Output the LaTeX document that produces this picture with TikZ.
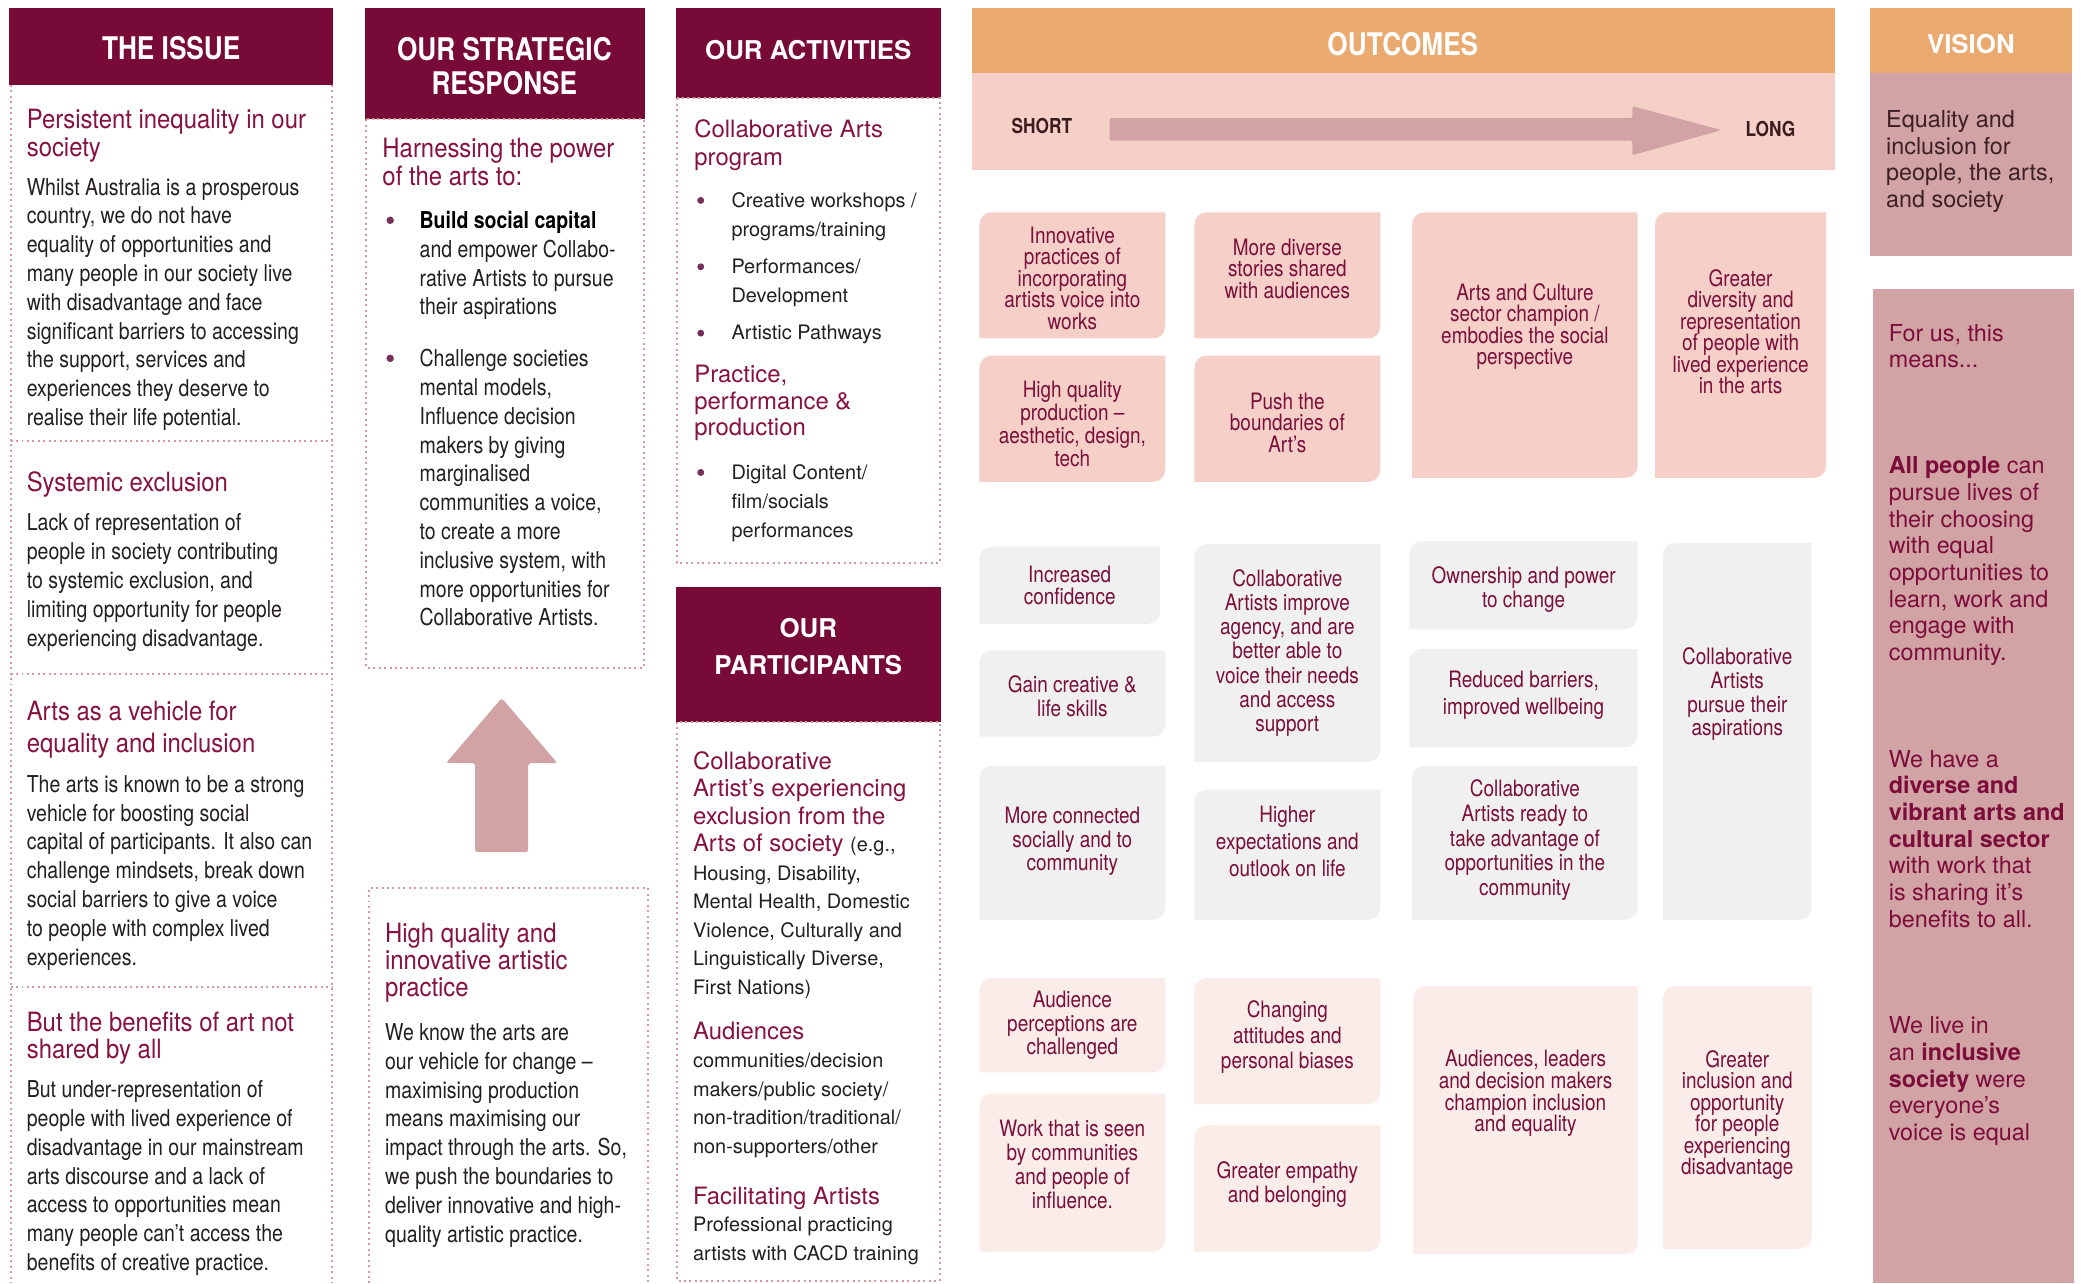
\documentclass[tikz,border=0pt]{standalone}
\usepackage{fontspec}
\setmainfont{TeX Gyre Heros}
\newfontfamily\cond{TeX Gyre Heros}[FakeStretch=0.84]
\newfontfamily\condw{TeX Gyre Heros}[FakeStretch=0.9]
\usetikzlibrary{positioning}
\definecolor{hdrmaroon}{HTML}{770A36}
\definecolor{headred}{HTML}{86123F}
\definecolor{bodyink}{HTML}{231F20}
\definecolor{dotpink}{HTML}{D69A9A}
\definecolor{outorange}{HTML}{EAA96E}
\definecolor{bandpink}{HTML}{F5CFC8}
\definecolor{dustypink}{HTML}{D1A3A4}
\definecolor{outgrey}{HTML}{F0F0F0}
\definecolor{outblush}{HTML}{FAECE9}
\definecolor{outink}{HTML}{7A0F3A}
\definecolor{visink}{HTML}{3E1F25}
\definecolor{visred}{HTML}{7C0C3A}
\definecolor{shortink}{HTML}{3A1C1E}
\definecolor{dotpurple}{HTML}{74305A}

\begin{document}
\begin{tikzpicture}[x = 1pt, y = -1pt]
\fill[white] (0,0) rectangle (1568,967);
\useasboundingbox (0,0) rectangle (1568,967);
\begin{scope}[
	hdr/.style={text=white, align=center, inner sep=0pt},
	cnhdr/.style={hdr, font=\cond\bfseries\fontsize{23.5}{26}\selectfont},
	widehdr/.style={hdr, font=\bfseries\fontsize{19.5}{28}\selectfont},
	dotline/.style={draw=dotpink, line width=1.5pt, dash pattern=on 1.5pt off 2.6pt},
	txt/.style={anchor=north west, inner sep=0pt, align=left},
	issuehead/.style={txt, text=headred, font=\condw\fontsize{20}{21}\selectfont},
	issuebody/.style={txt, text=bodyink, font=\cond\fontsize{17.5}{21.7}\selectfont},
	acthead/.style={txt, text=headred, font=\fontsize{18}{21}\selectfont},
	actbody/.style={txt, text=bodyink, font=\fontsize{15}{21.8}\selectfont},
	vistext/.style={txt, font=\fontsize{17.6}{20.1}\selectfont},
	outtext/.style={inner sep=0pt, align=center, text=outink},
	shortlong/.style={text=shortink, inner sep=0pt, font=\cond\bfseries\fontsize{15.5}{17}\selectfont}
]
\fill[hdrmaroon] (7,6) rectangle (251,64);
\fill[hdrmaroon] (275,6) rectangle (486,90);
\fill[hdrmaroon] (509,6) rectangle (709,74);
\fill[hdrmaroon] (509,442) rectangle (709,544);
\fill[outorange] (732,6) rectangle (1383,55);
\fill[bandpink] (732,55) rectangle (1383,128);
\fill[outorange] (1409,6) rectangle (1561,55);
\fill[dustypink] (1409,55) rectangle (1561,193);
\fill[dustypink] (1411,218) rectangle (1563,967);

\draw[dotline] (8,64) -- (8,967) (250,64) -- (250,967);
\foreach \y in {332, 508, 744} {
	\draw[dotline] (8,\y) -- (250,\y);
}
\draw[dotline] (276,90) rectangle (485,503);
\draw[dotline] (278,967) -- (278,669) -- (488,669) -- (488,967);
\draw[dotline] (510,74) rectangle (708,424);
\draw[dotline] (510,544) rectangle (708,965);

\node[cnhdr] (issue) at (129,36) {THE ISSUE};
\node[cnhdr] (strategy) at (380,50) {OUR STRATEGIC\\RESPONSE};
\node[widehdr] (activities) at (609,38) {OUR ACTIVITIES};
\node[widehdr] (participants) at (609,487) {OUR\\PARTICIPANTS};
\node[cnhdr] (outcomes) at (1057,33) {OUTCOMES};
\node[widehdr] (vision) at (1485,33) {VISION};
\node[shortlong] (short) at (785,95) {SHORT};
\node[shortlong] (long) at (1334,97) {LONG};
\fill[dustypink, rounded corners=1.5pt] (836,89) -- (1230,89) -- (1230,80) -- (1297,98) -- (1230,117) -- (1230,106) -- (836,106) -- cycle;

\node[issuehead] (issue-h1) at (20,82) {Persistent inequality in our\\society};
\node[issuebody] (issue-b1) at (20,134) {Whilst Australia is a prosperous\\country, we do not have\\equality of opportunities and\\many people in our society live\\with disadvantage and face\\significant barriers to accessing\\the support, services and\\experiences they deserve to\\realise their life potential.};
\node[issuehead] (issue-h2) at (20,355) {Systemic exclusion};
\node[issuebody] (issue-b2) at (20,387) {Lack of representation of\\people in society contributing\\to systemic exclusion, and\\limiting opportunity for people\\experiencing disadvantage.};
\node[issuehead] (issue-h3) at (20,528) {Arts as a vehicle for\\[3pt]equality and inclusion};
\node[issuebody] (issue-b3) at (20,584) {The arts is known to be a strong\\vehicle for boosting social\\capital of participants. It also can\\challenge mindsets, break down\\social barriers to give a voice\\to people with complex lived\\experiences.};
\node[issuehead] (issue-h4) at (20,762) {But the benefits of art not\\shared by all};
\node[issuebody] (issue-b4) at (20,814) {But under-representation of\\people with lived experience of\\disadvantage in our mainstream\\arts discourse and a lack of\\access to opportunities mean\\many people can’t access the\\benefits of creative practice.};

\node[issuehead] (str-h1) at (288,104) {Harnessing the power\\of the arts to:};
\fill[dotpurple] (294,166) circle (2.8);
\node[issuebody] (str-b1) at (316,159) {{\color{black}\bfseries Build social capital}\\and empower Collabo-\\rative Artists to pursue\\their aspirations};
\fill[dotpurple] (294,270) circle (2.8);
\node[issuebody] (str-b2) at (316,263) {Challenge societies\\mental models,\\Influence decision\\makers by giving\\marginalised\\communities a voice,\\to create a more\\inclusive system, with\\more opportunities for\\Collaborative Artists.};
\fill[dustypink, rounded corners=2pt] (358,642) -- (358,575) -- (336,575) -- (378,526) -- (420,575) -- (398,575) -- (398,642) -- cycle;
\node[issuehead, font=\condw\fontsize{20}{20.5}\selectfont] (str-h2) at (290,695) {High quality and\\innovative artistic\\practice};
\node[issuebody] (str-b3) at (290,771) {We know the arts are\\our vehicle for change –\\maximising production\\means maximising our\\impact through the arts. So,\\we push the boundaries to\\deliver innovative and high-\\quality artistic practice.};

\node[acthead] (act-h1) at (523,90) {Collaborative Arts\\program};
\node[acthead, font=\fontsize{18}{20}\selectfont] (act-h2) at (523,275) {Practice,\\performance \&\\production};
\foreach \y/\nm/\txt in {151/act-1/{Creative workshops /\\programs/training}, 201/act-2/{Performances/\\Development}, 251/act-3/{Artistic Pathways}, 356/act-4/{Digital Content/\\film/socials\\performances}} {
	\fill[dotpurple] (528,\y) circle (2.6);
	\node[actbody] (\nm) at (551,\y-6) {\txt};
}

\node[acthead, font=\fontsize{18}{20.7}\selectfont] (part-h1) at (522,566) {Collaborative\\Artist’s experiencing\\exclusion from the\\Arts of society {\color{bodyink}\fontsize{15}{20}\selectfont(e.g.,}};
\node[actbody, font=\fontsize{15}{21.5}\selectfont] (part-b1) at (522,652) {Housing, Disability,\\Mental Health, Domestic\\Violence, Culturally and\\Linguistically Diverse,\\First Nations)};
\node[acthead] (part-h2) at (522,770) {Audiences};
\node[actbody, font=\fontsize{15}{21.7}\selectfont] (part-b2) at (522,793) {communities/decision\\makers/public society/\\non-tradition/traditional/\\non-supporters/other};
\node[acthead] (part-h3) at (522,894) {Facilitating Artists};
\node[actbody] (part-b3) at (522,917) {Professional practicing\\artists with CACD training};

\foreach \xa/\ya/\xb/\yb/\col/\bs/\dy/\nm/\txt in {
	738/160/878/255/bandpink/16.2/2/out-innov/{Innovative\\practices of\\incorporating\\artists voice into\\works},
	738/268/878/363/bandpink/17.5/4/out-quality/{High quality\\production –\\aesthetic, design,\\tech},
	900/160/1040/255/bandpink/16.2/-5/out-diverse/{More diverse\\stories shared\\with audiences},
	900/268/1040/363/bandpink/16.2/3/out-push/{Push the\\boundaries of\\Art’s},
	1064/160/1234/360/bandpink/16.3/-14/out-sector/{Arts and Culture\\sector champion /\\embodies the social\\perspective},
	1247/160/1376/360/bandpink/16.2/-10/out-repr/{Greater\\diversity and\\representation\\of people with\\lived experience\\in the arts},
	738/412/874/470/outgrey/17/0/out-conf/{Increased\\confidence},
	738/490/878/555/outgrey/18/2/out-skills/{Gain creative \&\\life skills},
	738/577/878/693/outgrey/17.5/-1/out-connect/{More connected\\socially and to\\community},
	900/410/1040/574/outgrey/18.2/0/out-agency/{Collaborative\\Artists improve\\agency, and are\\better able to\\voice their needs\\and access\\support},
	900/595/1040/693/outgrey/20/-10/out-expect/{Higher\\expectations and\\outlook on life},
	1062/408/1234/474/outgrey/18/3/out-own/{Ownership and power\\to change},
	1062/489/1234/563/outgrey/20/-2/out-barrier/{Reduced barriers,\\improved wellbeing},
	1064/577/1234/693/outgrey/18.5/-2/out-ready/{Collaborative\\Artists ready to\\take advantage of\\opportunities in the\\community},
	1253/409/1365/693/outgrey/18/-28/out-pursue/{Collaborative\\Artists\\pursue their\\aspirations},
	738/737/878/808/outblush/18/0/out-audience/{Audience\\perceptions are\\challenged},
	738/824/878/943/outblush/18/-6/out-seen/{Work that is seen\\by communities\\and people of\\influence.},
	900/737/1040/832/outblush/19/-3/out-attitude/{Changing\\attitudes and\\personal biases},
	900/848/1040/943/outblush/18/-3/out-empathy/{Greater empathy\\and belonging},
	1065/743/1234/945/outblush/16.3/-20/out-leaders/{Audiences, leaders\\and decision makers\\champion inclusion\\and equality},
	1253/743/1365/941/outblush/16.2/-2/out-inclusion/{Greater\\inclusion and\\opportunity\\for people\\experiencing\\disadvantage}} {
	\fill[\col] (\xa,\yb) -- (\xa,\ya+9) arc[start angle=180, end angle=270, radius=9] -- (\xb,\ya) -- (\xb,\yb-9) arc[start angle=0, end angle=90, radius=9] -- cycle;
	\node[outtext, font=\cond\fontsize{17}{\bs}\selectfont] (\nm) at ({(\xa+\xb)/2}, {(\ya+\yb)/2+\dy}) {\txt};
}

\node[vistext, text=visink] (vis-1) at (1421,83) {Equality and\\inclusion for\\people, the arts,\\and society};
\node[vistext, text=visred] (vis-2) at (1423,244) {For us, this\\means...};
\node[vistext, text=visred] (vis-3) at (1423,344) {\textbf{All people} can\\pursue lives of\\their choosing\\with equal\\opportunities to\\learn, work and\\engage with\\community.};
\node[vistext, text=visred] (vis-4) at (1423,565) {We have a\\\textbf{diverse and}\\\textbf{vibrant arts and}\\\textbf{cultural sector}\\with work that\\is sharing it’s\\benefits to all.};
\node[vistext, text=visred] (vis-5) at (1423,766) {We live in\\an \textbf{inclusive}\\\textbf{society} were\\everyone’s\\voice is equal};
\end{scope}
\end{tikzpicture}
\end{document}
